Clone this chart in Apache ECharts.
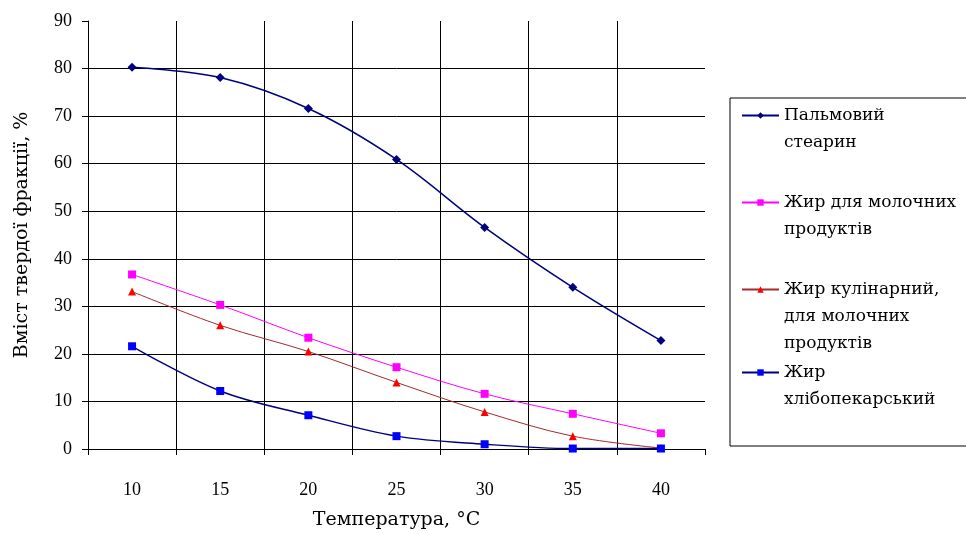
<!DOCTYPE html>
<html>
<head>
<meta charset="utf-8">
<script src="https://cdn.jsdelivr.net/npm/echarts@6/dist/echarts.min.js"></script>
<style>
  html, body { margin: 0; padding: 0; background: #fff; }
  #chart { width: 966px; height: 535px; }
</style>
</head>
<body>
<div id="chart"></div>
<script>
// температури, °C
const temperatures = ['10', '15', '20', '25', '30', '35', '40']

const seriesNames = [
  'Пальмовий\nстеарин',
  'Жир для молочних\nпродуктів',
  'Жир кулінарний,\nдля молочних\nпродуктів',
  'Жир\nхлібопекарський'
]

const palmStearin = [80.3, 78.1, 71.6, 60.9, 46.6, 34.0, 22.8]
const dairyFat = [36.7, 30.3, 23.4, 17.2, 11.6, 7.4, 3.3]
const culinaryFat = [33.1, 26.0, 20.5, 14.0, 7.8, 2.7, 0.2]
const bakeryFat = [21.6, 12.2, 7.1, 2.7, 1.0, 0.1, 0.1]

const yTicks = [0, 10, 20, 30, 40, 50, 60, 70, 80, 90]

const SERIF = "'DejaVu Serif', 'Liberation Serif', serif"
const DIGITS = "'Liberation Serif', serif"
const LINE_H = 27

const chart = echarts.init(document.getElementById('chart'))

function makeSeries(name, data, lineColor, markerColor, symbol, size, width) {
  return {
    name,
    type: 'line',
    data,
    smooth: 0.35,
    symbol,
    symbolSize: size,
    showSymbol: true,
    lineStyle: { color: lineColor, width: width },
    itemStyle: { color: markerColor },
    emphasis: { disabled: true },
    z: 3
  }
}

// one legend per entry so each sits at its own row like the original.
// the icon has to line up with the first text line, so blank lines are
// put in front to push the vertically centred block down
const legendTops = [75, 162, 222, 332]
const legends = seriesNames.map((name, i) => {
  const lines = name.split('\n').length
  return {
    data: [name],
    left: 741,
    top: legendTops[i],
    orient: 'vertical',
    padding: 0,
    itemWidth: 37,
    itemHeight: 8,
    itemGap: 0,
    selectedMode: false,
    formatter: (n) => '\n'.repeat(lines - 1) + n,
    textStyle: {
      fontFamily: SERIF,
      fontSize: 17,
      color: '#000',
      lineHeight: LINE_H
    }
  }
})

const option = {
  backgroundColor: '#fff',
  animation: false,
  textStyle: { fontFamily: SERIF },
  grid: {
    left: 88,
    right: 261,
    top: 21,
    bottom: 85
  },
  legend: legends,
  graphic: [
    {
      type: 'rect',
      shape: { x: 730, y: 98, width: 240, height: 348 },
      style: { fill: 'none', stroke: '#000', lineWidth: 1 },
      z: 0
    }
  ],
  xAxis: {
    type: 'category',
    data: temperatures,
    boundaryGap: true,
    name: 'Температура, °С',
    nameLocation: 'middle',
    nameGap: 62,
    nameTextStyle: { fontFamily: SERIF, fontSize: 19, color: '#000' },
    axisLine: { lineStyle: { color: '#000', width: 1 } },
    axisTick: { show: true, length: 6, lineStyle: { color: '#000' } },
    axisLabel: { fontFamily: DIGITS, fontSize: 18, color: '#000', margin: 32 },
    splitLine: {
      show: true,
      showMinLine: false,
      showMaxLine: false,
      lineStyle: { color: '#000', width: 1 }
    }
  },
  yAxis: {
    type: 'value',
    min: yTicks[0],
    max: yTicks[yTicks.length - 1],
    interval: 10,
    name: 'Вміст твердої фракції, %',
    nameLocation: 'middle',
    nameGap: 56,
    nameTextStyle: { fontFamily: SERIF, fontSize: 19, color: '#000' },
    axisLine: { show: true, lineStyle: { color: '#000', width: 1 } },
    axisTick: { show: true, length: 6, lineStyle: { color: '#000' } },
    axisLabel: { fontFamily: DIGITS, fontSize: 18, color: '#000', margin: 16 },
    splitLine: {
      show: true,
      showMaxLine: false,
      lineStyle: { color: '#000', width: 1 }
    }
  },
  series: [
    makeSeries(seriesNames[0], palmStearin, '#000080', '#000080', 'diamond', 9, 1.5),
    makeSeries(seriesNames[1], dairyFat, '#ff00ff', '#ff00ff', 'rect', 8, 1),
    makeSeries(seriesNames[2], culinaryFat, '#a52a2a', '#ff0000', 'triangle', 8, 1),
    makeSeries(seriesNames[3], bakeryFat, '#000080', '#0000ff', 'rect', 8, 1.4)
  ]
}

chart.setOption(option)
</script>
</body>
</html>
